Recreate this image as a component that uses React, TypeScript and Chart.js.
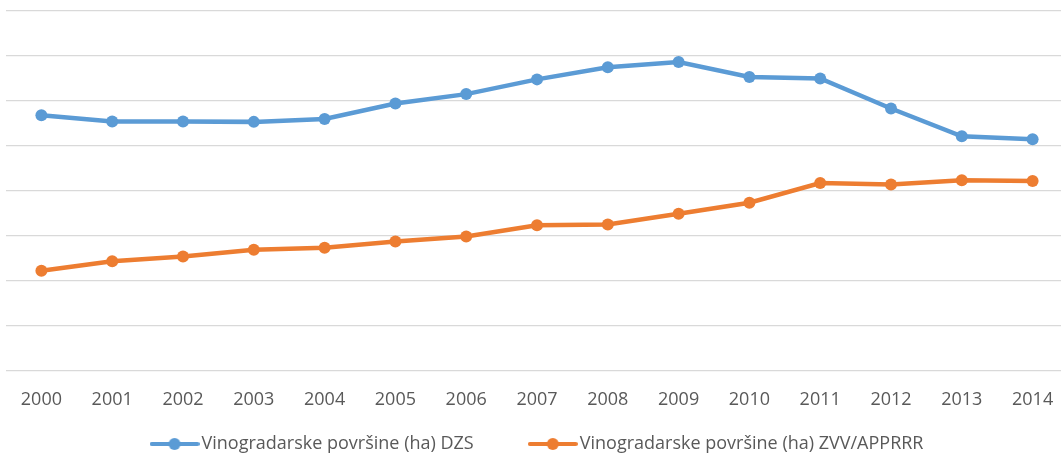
import React, { useEffect, useRef } from "react";
import { Chart, registerables } from "chart.js";

Chart.register(...registerables);

const years = ["2000", "2001", "2002", "2003", "2004", "2005", "2006", "2007", "2008", "2009", "2010", "2011", "2012", "2013", "2014"];
const dzsValues = [28400, 27700, 27700, 27660, 27990, 29710, 30750, 32390, 33730, 34320, 32650, 32500, 29150, 26060, 25730];
const zvvValues = [11100, 12140, 12670, 13420, 13640, 14340, 14900, 16160, 16240, 17430, 18660, 20850, 20700, 21150, 21070];
const seriesNames = ["Vinogradarske površine (ha) DZS", "Vinogradarske površine (ha) ZVV/APPRRR"];
const seriesColors = ["#5B9BD5", "#ED7D31"];
const yMin = 0;
const yMax = 40000;
const yStep = 5000;

function legendIcon(color: string): HTMLCanvasElement {
  const c = document.createElement("canvas");
  c.width = 50;
  c.height = 14;
  const ctx = c.getContext("2d")!;
  ctx.strokeStyle = color;
  ctx.lineWidth = 4;
  ctx.lineCap = "round";
  ctx.beginPath();
  ctx.moveTo(2, 7);
  ctx.lineTo(48, 7);
  ctx.stroke();
  ctx.fillStyle = color;
  ctx.beginPath();
  ctx.arc(25, 7, 6, 0, Math.PI * 2);
  ctx.fill();
  return c;
}

export default function App() {
  const canvasRef = useRef<HTMLCanvasElement | null>(null);

  useEffect(() => {
    document.documentElement.style.overflow = "hidden";
    document.body.style.overflow = "hidden";
    const canvas = canvasRef.current;
    if (!canvas) return;
    const icons = seriesColors.map((c) => legendIcon(c));
    const chart = new Chart(canvas, {
      type: "line",
      data: {
        labels: years,
        datasets: seriesNames.map((name, i) => ({
          label: name,
          data: i === 0 ? dzsValues : zvvValues,
          borderColor: seriesColors[i],
          backgroundColor: seriesColors[i],
          borderWidth: 4.5,
          pointRadius: 6,
          pointBorderWidth: 0,
          pointBackgroundColor: seriesColors[i],
          tension: 0,
        })),
      },
      options: {
        animation: false,
        responsive: false,
        maintainAspectRatio: false,
        layout: { padding: { left: 6, right: 0, top: 11, bottom: -9 } },
        plugins: {
          tooltip: { enabled: false },
          legend: {
            position: "bottom",
            labels: {
              usePointStyle: true,
              pointStyleWidth: 36,
              padding: 5,
              color: "#595959",
              font: { family: "'Open Sans', sans-serif", size: 18 },
              generateLabels: (ch: any) =>
                ch.data.datasets.map((ds: any, i: number) => ({
                  text: i === 0 ? ds.label + "            " : ds.label,
                  fillStyle: seriesColors[i],
                  strokeStyle: seriesColors[i],
                  lineWidth: 0,
                  pointStyle: icons[i],
                  hidden: false,
                  datasetIndex: i,
                  fontColor: "#595959",
                })),
            },
          },
        },
        scales: {
          x: {
            offset: true,
            grid: { display: false, drawTicks: false },
            border: { display: false },
            ticks: {
              color: "#595959",
              font: { family: "'Open Sans', sans-serif", size: 18 },
              padding: 19,
              maxRotation: 0,
              autoSkip: false,
            },
          },
          y: {
            position: "right",
            min: yMin,
            max: yMax,
            grid: { color: "#D9D9D9", lineWidth: 1.3, drawTicks: false },
            border: { display: false },
            ticks: { display: false, stepSize: yStep },
            afterFit: (scale: any) => {
              scale.width = 5;
            },
          },
        },
      },
    });
    return () => chart.destroy();
  }, []);

  return (
    <div style={{ position: "fixed", left: 0, top: 0, width: 1074, height: 454, background: "#fff" }}>
      <canvas ref={canvasRef} width={1074} height={454} style={{ display: "block" }} />
    </div>
  );
}
